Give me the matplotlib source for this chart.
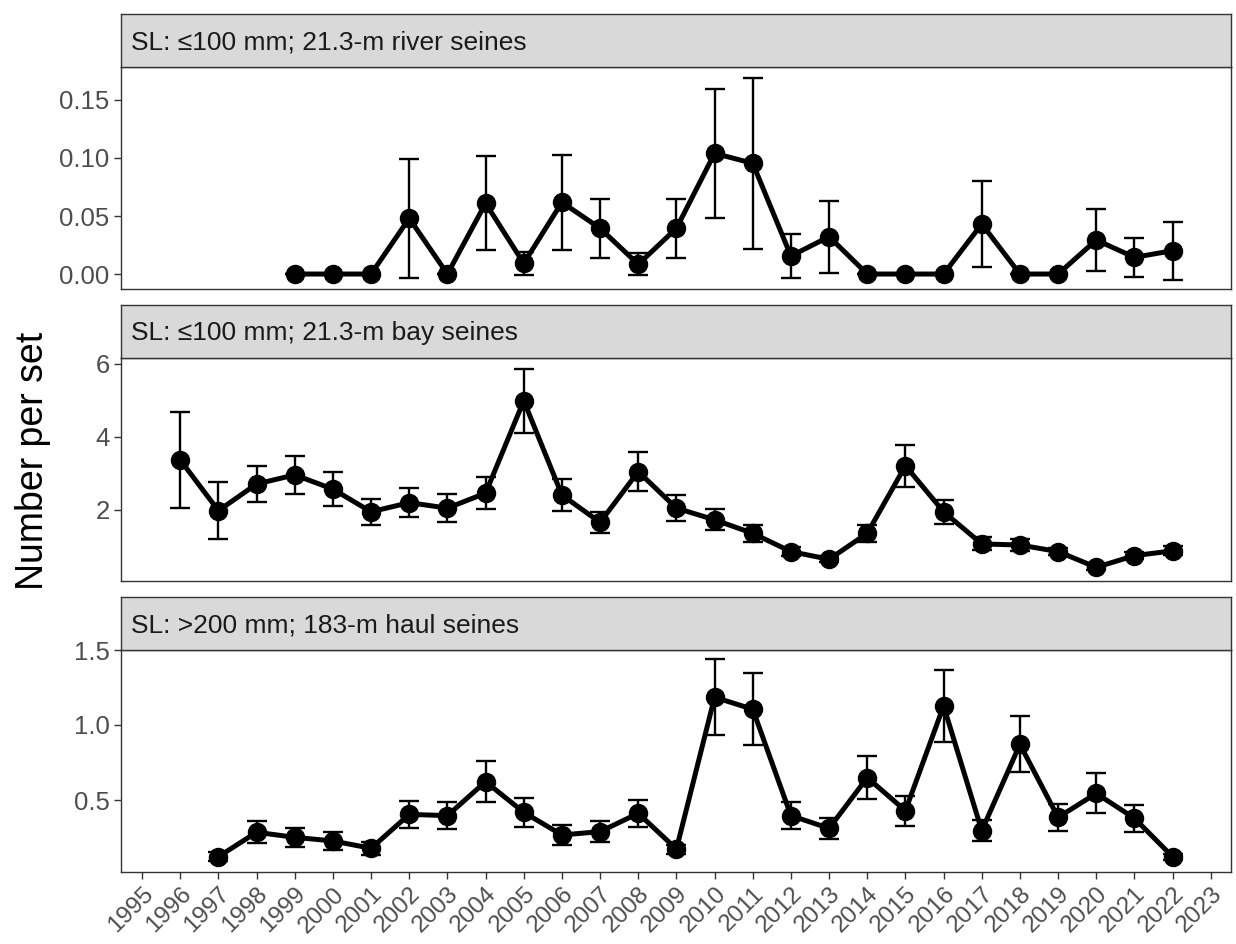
import matplotlib
matplotlib.use("Agg")
import matplotlib.pyplot as plt
import numpy as np

plt.rcParams['font.family'] = ['Liberation Sans', 'DejaVu Sans']

# ---------------- data ----------------
years_river = list(range(1999, 2023))
river_mean = [0.0, 0.0, 0.0, 0.048, 0.0, 0.061, 0.0092, 0.0618, 0.0394, 0.0084,
              0.0394, 0.104, 0.0954, 0.0155, 0.0322, 0.0, 0.0, 0.0, 0.0431, 0.0,
              0.0, 0.0293, 0.0144, 0.0201]
river_se = [0.0, 0.0, 0.0, 0.051, 0.0, 0.0405, 0.0102, 0.041, 0.0253, 0.0094,
            0.0254, 0.0558, 0.0737, 0.019, 0.031, 0.0, 0.0, 0.0, 0.0367, 0.0,
            0.0, 0.0267, 0.0168, 0.025]

years_bay = list(range(1996, 2023))
bay_mean = [3.37, 1.98, 2.71, 2.96, 2.57, 1.95, 2.20, 2.05, 2.46, 4.99,
            2.41, 1.66, 3.05, 2.05, 1.73, 1.36, 0.86, 0.65, 1.36, 3.21,
            1.95, 1.07, 1.04, 0.86, 0.43, 0.75, 0.88]
bay_se = [1.31, 0.78, 0.48, 0.53, 0.47, 0.36, 0.39, 0.38, 0.43, 0.88,
          0.43, 0.29, 0.53, 0.36, 0.29, 0.24, 0.12, 0.08, 0.24, 0.58,
          0.33, 0.18, 0.17, 0.10, 0.07, 0.10, 0.12]

years_haul = list(range(1997, 2023))
haul_mean = [0.122, 0.285, 0.251, 0.227, 0.178, 0.404, 0.396, 0.622, 0.418, 0.267,
             0.289, 0.411, 0.173, 1.185, 1.105, 0.396, 0.311, 0.649, 0.429, 1.127,
             0.296, 0.871, 0.384, 0.544, 0.378, 0.122]
haul_se = [0.03, 0.072, 0.061, 0.057, 0.045, 0.092, 0.092, 0.137, 0.095, 0.067,
           0.07, 0.091, 0.03, 0.252, 0.239, 0.092, 0.072, 0.142, 0.1, 0.242,
           0.07, 0.187, 0.091, 0.133, 0.088, 0.02]

panel_titles = ["SL: \u2264100 mm; 21.3-m river seines",
                "SL: \u2264100 mm; 21.3-m bay seines",
                "SL: >200 mm; 183-m haul seines"]
x_ticks = list(range(1995, 2024))
y_ticks_river = [0.00, 0.05, 0.10, 0.15]
y_ticks_bay = [2, 4, 6]
y_ticks_haul = [0.5, 1.0, 1.5]
y_label = "Number per set"

# ---------------- layout ----------------
W, H = 1236, 944
fig = plt.figure(figsize=(W / 100, H / 100), dpi=100)
fig.patch.set_facecolor('white')

left_px, right_px = 120.7, 1231
panels_px = [(67, 289), (358, 581), (650, 872)]      # (top, bottom) of plot area
strip_h = 53
ylims = [(-0.0129, 0.1784), (0.055, 6.16), (0.02, 1.5)]
xlim = (1994.44, 2023.53)

series = [(years_river, river_mean, river_se, y_ticks_river, "%.2f"),
          (years_bay, bay_mean, bay_se, y_ticks_bay, "%d"),
          (years_haul, haul_mean, haul_se, y_ticks_haul, "%.1f")]

border_col = '#333333'
tick_text_col = '#4D4D4D'

for i, ((top, bot), (yrs, mean, se, yt, fmt)) in enumerate(zip(panels_px, series)):
    ax = fig.add_axes([left_px / W, 1 - bot / H, (right_px - left_px) / W, (bot - top) / H])
    ax.errorbar(yrs, mean, yerr=se, fmt='none', ecolor='black', elinewidth=1.7,
                capsize=7.5, capthick=1.7, zorder=2)
    ax.plot(yrs, mean, color='black', lw=3.6, zorder=3, solid_joinstyle='round')
    ax.plot(yrs, mean, 'o', color='black', ms=13, zorder=4)
    ax.set_xlim(*xlim)
    ax.set_ylim(*ylims[i])
    ax.set_yticks(yt)
    ax.set_yticklabels([fmt % v for v in yt])
    ax.set_xticks(x_ticks)
    for s in ax.spines.values():
        s.set_color(border_col)
        s.set_linewidth(1.0)
    ax.tick_params(axis='y', length=5, width=1.0, color=border_col,
                   labelsize=18.5, labelcolor=tick_text_col, pad=3)
    if i < 2:
        ax.tick_params(axis='x', length=0, labelbottom=False)
    else:
        ax.tick_params(axis='x', length=5, width=1.0, color=border_col,
                       labelsize=17.5, labelcolor=tick_text_col, pad=3)
        ax.set_xticklabels([str(y) for y in x_ticks], rotation=45, ha='right',
                           va='top', rotation_mode='anchor')
    # strip
    sax = fig.add_axes([left_px / W, 1 - top / H, (right_px - left_px) / W, strip_h / H])
    sax.set_facecolor('#D9D9D9')
    sax.set_xticks([])
    sax.set_yticks([])
    for s in sax.spines.values():
        s.set_color(border_col)
        s.set_linewidth(1.0)
    sax.text(10 / (right_px - left_px), 0.47, panel_titles[i], transform=sax.transAxes,
             ha='left', va='center', fontsize=19, color='#1A1A1A')

fig.text(33 / W, 1 - 461 / H, y_label, rotation=90, ha='center', va='center',
         fontsize=27, color='black')

fig.savefig('out.png', dpi=100, facecolor='white')
